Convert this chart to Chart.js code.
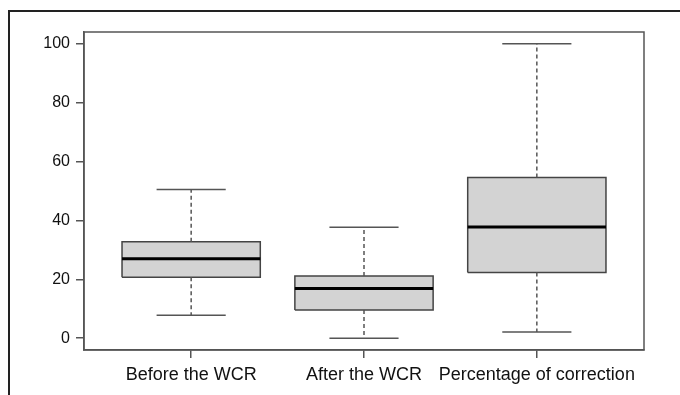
<!DOCTYPE html>
<html>
<head>
<meta charset="utf-8">
<script src="https://cdn.jsdelivr.net/npm/chart.js@4/dist/chart.umd.min.js"></script>
<style>
  html, body { margin: 0; padding: 0; background: #fff; }
  #wrap { position: relative; width: 680px; height: 395px; }
  #frame { position: absolute; left: 8px; top: 10px; right: 0; bottom: 0;
           border-left: 2px solid #222; border-top: 2px solid #222; pointer-events: none; }
  canvas { position: absolute; left: 0; top: 0; }
</style>
</head>
<body>
<div id="wrap">
  <canvas id="c" width="680" height="395"></canvas>
  <div id="frame"></div>
</div>
<script>
const categories = ['Before the WCR', 'After the WCR', 'Percentage of correction'];
const lowerWhisker = [7.8, 0, 2.1];
const q1 = [20.7, 9.6, 22.3];
const median = [27.0, 16.9, 37.8];
const q3 = [32.8, 21.1, 54.6];
const upperWhisker = [50.5, 37.7, 100];
const yTicks = [0, 20, 40, 60, 80, 100];

const BOX_HALF = 0.4;
const CAP_HALF = 0.2;

function segs(fn) {
  const pts = [];
  categories.forEach((c, i) => {
    fn(i + 1, i).forEach(p => pts.push(p));
    pts.push({x: i + 1, y: null});
  });
  return pts;
}

const medianData = segs((x, i) => [{x: x - BOX_HALF, y: median[i]}, {x: x + BOX_HALF, y: median[i]}]);
const capData = segs((x, i) => [
  {x: x - CAP_HALF, y: upperWhisker[i]}, {x: x + CAP_HALF, y: upperWhisker[i]}, {x: x, y: null},
  {x: x - CAP_HALF, y: lowerWhisker[i]}, {x: x + CAP_HALF, y: lowerWhisker[i]}
]);
const whiskerData = segs((x, i) => [
  {x: x, y: q3[i]}, {x: x, y: upperWhisker[i]}, {x: x, y: null},
  {x: x, y: q1[i]}, {x: x, y: lowerWhisker[i]}
]);

const lineBase = { showLine: true, pointRadius: 0, pointHoverRadius: 0, spanGaps: false, fill: false, tension: 0 };

const datasets = [
  Object.assign({}, lineBase, { data: medianData, borderColor: '#000', borderWidth: 3 }),
  Object.assign({}, lineBase, { data: capData, borderColor: '#555', borderWidth: 1.5 }),
  Object.assign({}, lineBase, { data: whiskerData, borderColor: '#555', borderWidth: 1.5, borderDash: [4, 3] })
];
categories.forEach((c, i) => {
  const x = i + 1;
  datasets.push(Object.assign({}, lineBase, {
    data: [
      {x: x - BOX_HALF, y: q1[i]}, {x: x + BOX_HALF, y: q1[i]},
      {x: x + BOX_HALF, y: q3[i]}, {x: x - BOX_HALF, y: q3[i]},
      {x: x - BOX_HALF, y: q1[i]}
    ],
    fill: 'shape',
    backgroundColor: '#d3d3d3',
    borderColor: '#444',
    borderWidth: 1.5
  }));
});

const framePlugin = {
  id: 'frame',
  afterDraw(chart) {
    const a = chart.chartArea, ctx = chart.ctx;
    ctx.save();
    ctx.strokeStyle = '#555';
    ctx.lineWidth = 1.5;
    ctx.strokeRect(a.left, a.top, a.right - a.left, a.bottom - a.top);
    ctx.restore();
  }
};

const font = { family: '"Liberation Sans", Arial, sans-serif' };

new Chart(document.getElementById('c'), {
  type: 'scatter',
  data: { datasets },
  plugins: [framePlugin],
  options: {
    responsive: false,
    animation: false,
    events: [],
    layout: { padding: { top: 32, right: 36, left: 0, bottom: 0 } },
    plugins: { legend: { display: false }, tooltip: { enabled: false } },
    scales: {
      x: {
        type: 'linear',
        min: 0.38, max: 3.62,
        afterBuildTicks: s => { s.ticks = categories.map((c, i) => ({ value: i + 1 })); },
        afterFit: s => { s.height = 45; },
        ticks: {
          callback: v => categories[v - 1] || '',
          color: '#111',
          font: Object.assign({ size: 18 }, font),
          padding: 6,
          maxRotation: 0,
          autoSkip: false
        },
        grid: { drawOnChartArea: false, drawTicks: true, tickLength: 8, color: '#555', lineWidth: 1.5 },
        border: { display: true, color: '#555', width: 1.5 }
      },
      y: {
        type: 'linear',
        min: -4, max: 104,
        afterBuildTicks: s => { s.ticks = yTicks.map(v => ({ value: v })); },
        afterFit: s => { s.width = 84; },
        ticks: {
          color: '#111',
          font: Object.assign({ size: 16 }, font),
          padding: 6
        },
        grid: { drawOnChartArea: false, drawTicks: true, tickLength: 8, color: '#555', lineWidth: 1.5 },
        border: { display: true, color: '#555', width: 1.5 }
      }
    }
  }
});
</script>
</body>
</html>
